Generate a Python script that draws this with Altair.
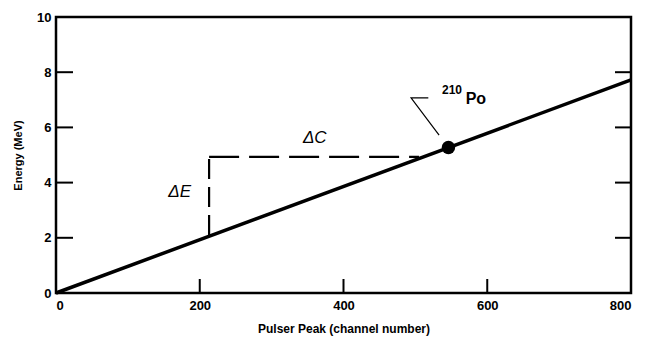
import altair as alt
import pandas as pd

# data
line_x = [0, 800]
line_y = [0, 7.72]
po_x = [546]
po_y = [5.27]
dashv_x = [213]
dashv_y = [2.1, 4.93]
dashh_x = [213, 505]
dashh_y = [4.93]
leader_x = [518, 494, 533]
leader_y = [7.07, 7.07, 5.72]
yticks = [2, 4, 6, 8]
xticks = [200, 400, 600]
labels = ["ΔE", "ΔC"]
label_x = [172, 360]
label_y = [3.66, 5.62]

W, H = 575, 276
FONT = "Liberation Sans"

xs = alt.Scale(domain=[0, 800], nice=False)
ys = alt.Scale(domain=[0, 10], nice=False)

xaxis = alt.Axis(values=[0, 200, 400, 600, 800], tickSize=0, domain=False, grid=False,
                 labelFont=FONT, labelFontWeight="bold", labelFontSize=13, labelColor="black",
                 labelPadding=6, title="Pulser Peak (channel number)", titleFont=FONT,
                 titleFontWeight="bold", titleFontSize=12, titleColor="black", titlePadding=11)
yaxis = alt.Axis(values=[0, 2, 4, 6, 8, 10], tickSize=0, domain=False, grid=False,
                 labelFont=FONT, labelFontWeight="bold", labelFontSize=13, labelColor="black",
                 labelPadding=5, title="Energy (MeV)", titleFont=FONT,
                 titleFontWeight="bold", titleFontSize=11, titleColor="black", titlePadding=13)

main = alt.Chart(pd.DataFrame({"x": line_x, "y": line_y})).mark_line(
    color="black", strokeWidth=3.5).encode(
    x=alt.X("x:Q", scale=xs, axis=xaxis),
    y=alt.Y("y:Q", scale=ys, axis=yaxis))

pt = alt.Chart(pd.DataFrame({"x": po_x, "y": po_y})).mark_circle(
    color="black", opacity=1, size=180).encode(
    x=alt.X("x:Q", scale=xs), y=alt.Y("y:Q", scale=ys))

dv = alt.Chart(pd.DataFrame({"x": dashv_x, "y": [dashv_y[0]], "y2": [dashv_y[1]]})).mark_rule(
    color="black", strokeWidth=2.2, strokeDash=[20, 8]).encode(
    x=alt.X("x:Q", scale=xs), y=alt.Y("y:Q", scale=ys), y2="y2:Q")

dh = alt.Chart(pd.DataFrame({"x": [dashh_x[0]], "x2": [dashh_x[1]], "y": dashh_y})).mark_rule(
    color="black", strokeWidth=2.2, strokeDash=[30, 10]).encode(
    x=alt.X("x:Q", scale=xs), x2="x2:Q", y=alt.Y("y:Q", scale=ys))

leader = alt.Chart(pd.DataFrame({"x": leader_x, "y": leader_y, "o": [0, 1, 2]})).mark_line(
    color="black", strokeWidth=1.2).encode(
    x=alt.X("x:Q", scale=xs), y=alt.Y("y:Q", scale=ys), order="o:O")

txt = alt.Chart(pd.DataFrame({"x": label_x, "y": label_y, "t": labels})).mark_text(
    font=FONT, fontSize=17, fontStyle="italic", color="black").encode(
    x=alt.X("x:Q", scale=xs), y=alt.Y("y:Q", scale=ys), text="t:N")

sup = alt.Chart(pd.DataFrame({"x": [537], "y": [7.36], "t": ["210"]})).mark_text(
    font=FONT, fontSize=12, fontWeight="bold", color="black", align="left", baseline="middle").encode(
    x=alt.X("x:Q", scale=xs), y=alt.Y("y:Q", scale=ys), text="t:N")

po = alt.Chart(pd.DataFrame({"x": [570], "y": [7.03], "t": ["Po"]})).mark_text(
    font=FONT, fontSize=16, fontWeight="bold", color="black", align="left", baseline="middle").encode(
    x=alt.X("x:Q", scale=xs), y=alt.Y("y:Q", scale=ys), text="t:N")

lt = alt.Chart(pd.DataFrame({"v": yticks})).mark_rule(color="black", strokeWidth=2).encode(
    x=alt.value(0), x2=alt.value(17), y=alt.Y("v:Q", scale=ys))
rt = alt.Chart(pd.DataFrame({"v": yticks})).mark_rule(color="black", strokeWidth=2).encode(
    x=alt.value(W - 16), x2=alt.value(W), y=alt.Y("v:Q", scale=ys))
bt = alt.Chart(pd.DataFrame({"v": xticks})).mark_rule(color="black", strokeWidth=2).encode(
    x=alt.X("v:Q", scale=xs), y=alt.value(H), y2=alt.value(H - 14))

chart = alt.layer(main, dv, dh, leader, pt, txt, sup, po, lt, rt, bt).properties(
    width=W, height=H,
    autosize=alt.AutoSizeParams(type="none"),
    padding={"left": 48, "top": 9, "right": 8, "bottom": 46},
).configure(background="white").configure_view(stroke="black", strokeWidth=2.5)

chart.save("out.html", embed_options={"renderer": "svg", "actions": False})
